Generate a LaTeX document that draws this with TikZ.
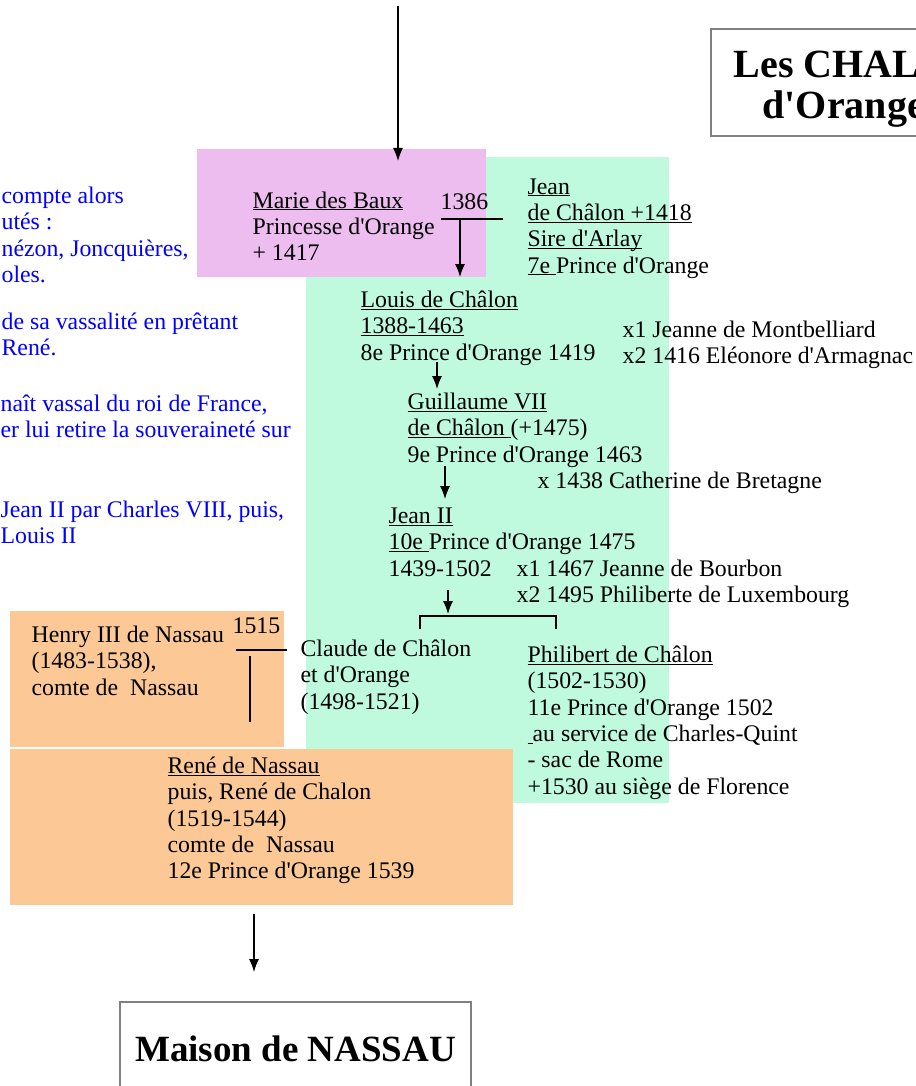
\documentclass[tikz,border=0pt]{standalone}
\usepackage{fontspec}
\setmainfont{Liberation Serif}
\usetikzlibrary{arrows.meta}

\definecolor{mauve}{RGB}{237,189,240}
\definecolor{menthe}{RGB}{192,250,222}
\definecolor{peche}{RGB}{251,200,150}
\definecolor{cadre}{RGB}{128,128,128}
\newcommand\ul[1]{\underline{\smash{#1}}}
\newcommand\ap{\textquotesingle}
\newcommand\corps{\fontsize{23.8}{26.3}\selectfont}

\begin{document}
\begin{tikzpicture}[x=1pt, y=-1pt, >={Latex[length=13pt,width=10pt]}, line width=1.2pt,
    txt/.style={anchor=north west, inner sep=0pt, align=left, font=\corps},
    note/.style={txt, text=blue},
    titre/.style={anchor=base west, inner sep=0pt, font=\fontsize{37}{42}\selectfont\bfseries}]
    \useasboundingbox (0,0) rectangle (915,1086);

    % Backgrounds
    \fill[menthe] (306,157) rectangle (669,803);
    \fill[mauve] (197,149) rectangle (486,277);
    \fill[peche] (10,611) rectangle (284,747);
    \fill[peche] (10,749) rectangle (513,905);

    % Title boxes
    \draw[cadre, fill=white] (711,29) rectangle (940,136);
    \node[titre, font=\fontsize{40}{44}\selectfont\bfseries] (chalon) at (733,78) {Les CHAL};
    \node[titre, font=\fontsize{40}{44}\selectfont\bfseries] (orange) at (762,119) {d\ap Orange};
    \draw[cadre, fill=white] (120,1002) rectangle (471,1110);
    \node[titre, anchor=base] (nassau) at (295.5,1061) {Maison de NASSAU};

    % Notes on the left
    \node[note] (n1) at (1,184.6) {\strut compte alors\\utés :\\nézon, Joncquières,\\oles.};
    \node[note] (n2) at (1,310.6) {\strut de sa vassalité en prêtant\\René.};
    \node[note] (n3) at (0,392.6) {\strut naît vassal du roi de France,\\er lui retire la souveraineté sur};
    \node[note] (n4) at (0,498.6) {\strut Jean II par Charles VIII, puis,\\Louis II};

    % Persons
    \node[txt] (marie) at (252,189.1) {\strut\ul{Marie des Baux}\\Princesse d\ap Orange\\+ 1417};
    \node[txt] (an1386) at (440,190.6) {\strut 1386};
    \node[txt] (jean) at (527,175.1) {\strut\ul{Jean}\\\ul{de Châlon +1418}\\\ul{Sire d\ap Arlay}\\\ul{7e\ }Prince d\ap Orange};
    \node[txt] (louis) at (360,288.6) {\strut\ul{Louis de Châlon}\\\ul{1388-1463}\\8e Prince d\ap Orange 1419};
    \node[txt] (louisx) at (622,318.6) {\strut x1 Jeanne de Montbelliard\\x2 1416 Eléonore d\ap Armagnac};
    \node[txt] (guillaume) at (407,390.6) {\strut\ul{Guillaume VII}\\\ul{de Châlon\ }(+1475)\\9e Prince d\ap Orange 1463};
    \node[txt] (guillaumex) at (537,469.6) {\strut x 1438 Catherine de Bretagne};
    \node[txt] (jeanii) at (388,504.6) {\strut\ul{Jean II}\\\ul{10e\ }Prince d\ap Orange 1475\\1439-1502};
    \node[txt] (jeaniix) at (516,557.6) {\strut x1 1467 Jeanne de Bourbon\\x2 1495 Philiberte de Luxembourg};
    \node[txt] (an1515) at (232,614.6) {\strut 1515};
    \node[txt] (henry) at (31,623.6) {\strut Henry III de Nassau\\(1483-1538),\\comte de\ \ Nassau};
    \node[txt] (claude) at (300,637.6) {\strut Claude de Châlon\\et d\ap Orange\\(1498-1521)};
    \node[txt] (philibert) at (527,643.6) {\strut\ul{Philibert de Châlon}\\(1502-1530)\\11e Prince d\ap Orange 1502\\\ul{\kern5pt}au service de Charles-Quint\\- sac de Rome\\+1530 au siège de Florence};
    \node[txt] (rene) at (167,754.6) {\strut\ul{René de Nassau}\\puis, René de Chalon\\(1519-1544)\\comte de\ \ Nassau\\12e Prince d\ap Orange 1539};

    % Connectors
    \coordinate (haut) at (398,6);
    \coordinate (entree) at (398,161);
    \draw[->] (haut) -- (entree);
    \coordinate (u1a) at (441,219);
    \coordinate (u1b) at (503,219);
    \coordinate (u1c) at (460,219);
    \coordinate (u1d) at (460,277);
    \draw (u1a) -- (u1b);
    \draw[->] (u1c) -- (u1d);
    \coordinate (g1a) at (437,362);
    \coordinate (g1b) at (437,389);
    \draw[->] (g1a) -- (g1b);
    \coordinate (g2a) at (445,466);
    \coordinate (g2b) at (445,499);
    \draw[->] (g2a) -- (g2b);
    \coordinate (g3a) at (448,590);
    \coordinate (g3b) at (448,614);
    \draw[->] (g3a) -- (g3b);
    % Children of Jean II
    \coordinate (fg) at (420,629);
    \coordinate (fd) at (556,629);
    \draw (fg) -- ++(0,-13) -| (fd);
    % Henry and Claude
    \coordinate (u2a) at (236,650);
    \coordinate (u2b) at (287,650);
    \coordinate (u2c) at (250,656);
    \coordinate (u2d) at (250,722);
    \draw (u2a) -- (u2b);
    \draw (u2c) -- (u2d);
    \coordinate (ba) at (254,914);
    \coordinate (bb) at (254,972);
    \draw[->] (ba) -- (bb);
\end{tikzpicture}
\end{document}
